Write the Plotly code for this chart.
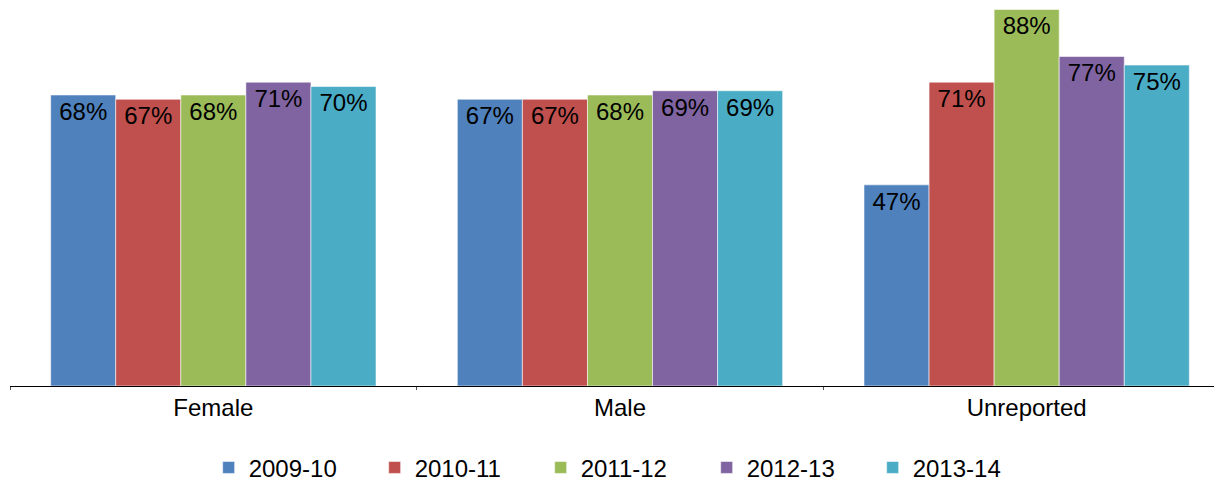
import plotly.graph_objects as go

# Share of students by gender, five school years
categories = ["Female", "Male", "Unreported"]
years = ["2009-10", "2010-11", "2011-12", "2012-13", "2013-14"]
values = {
    "2009-10": [0.68, 0.67, 0.47],
    "2010-11": [0.67, 0.67, 0.71],
    "2011-12": [0.68, 0.68, 0.88],
    "2012-13": [0.71, 0.69, 0.77],
    "2013-14": [0.70, 0.69, 0.75],
}
colors = ["#4F81BD", "#C0504D", "#9BBB59", "#8064A2", "#4BACC6"]

FONT = "Liberation Sans, Arial, sans-serif"

fig = go.Figure()
for year, color in zip(years, colors):
    fig.add_trace(go.Bar(
        x=categories,
        y=values[year],
        name=year,
        marker=dict(color=color, line=dict(color="rgba(255,255,255,0.55)", width=1)),
        text=[f"{v:.0%}" for v in values[year]],
        textposition="inside",
        insidetextanchor="end",
        textangle=0,
        insidetextfont=dict(color="black", size=24, family=FONT),
        constraintext="none",
    ))

# the original chart runs a little past the right edge of the window
fig.update_layout(
    width=1230,
    height=482,
    barmode="group",
    bargap=0.2,
    bargroupgap=0,
    plot_bgcolor="white",
    paper_bgcolor="white",
    font=dict(family=FONT, size=24, color="black"),
    margin=dict(l=10, r=0, t=0, b=96, autoexpand=False),
    legend=dict(
        orientation="h",
        x=0.503, xanchor="center",
        y=-0.212, yanchor="middle",
        font=dict(size=24),
        entrywidth=121,
        itemwidth=30,
    ),
)
fig.update_xaxes(
    showline=True, linecolor="black", linewidth=1,
    ticks="outside", tickson="boundaries", ticklen=3, tickcolor="#555",
    showgrid=False, automargin=False,
)
fig.update_yaxes(visible=False, range=[0, 0.902], showgrid=False, automargin=False)

# drop the browser's default body margin and scrollbars
fig.write_html(
    "out.html",
    config={"displayModeBar": False},
    post_script="document.body.style.margin='0';document.body.style.overflow='hidden';",
)
